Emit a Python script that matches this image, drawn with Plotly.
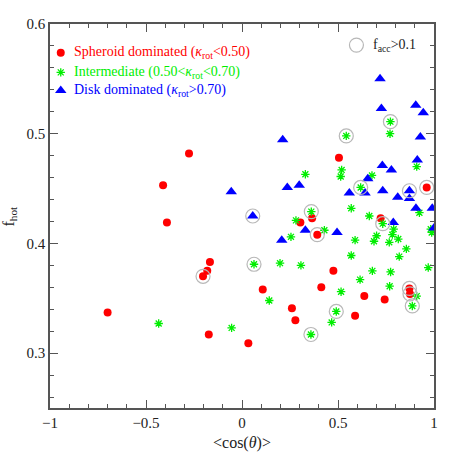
import plotly.graph_objects as go

# spheroid dominated (red)
sph_x = [-0.70, -0.276, -0.411, -0.391, -0.167, -0.181, -0.203, -0.173, 0.033, 0.108,
         0.260, 0.278, 0.304, 0.365, 0.392, 0.413, 0.476, 0.505, 0.589, 0.637,
         0.722, 0.743, 0.872, 0.875, 0.962]
sph_y = [0.337, 0.482, 0.453, 0.419, 0.383, 0.375, 0.370, 0.317, 0.309, 0.358,
         0.341, 0.330, 0.419, 0.423, 0.408, 0.360, 0.375, 0.478, 0.334, 0.352,
         0.423, 0.349, 0.359, 0.354, 0.451]
sph_acc = [0, 0, 0, 0, 0, 0, 1, 0, 0, 0,
           0, 0, 0, 0, 1, 0, 0, 0, 0, 0,
           0, 0, 1, 1, 1]

# intermediate (green)
int_x = [-0.434, -0.054, 0.0625, 0.142, 0.198, 0.255, 0.281, 0.307, 0.330, 0.361,
         0.359, 0.429, 0.467, 0.491, 0.516, 0.514, 0.519, 0.543, 0.569, 0.569,
         0.589, 0.615, 0.618, 0.663, 0.677, 0.679, 0.6875, 0.701, 0.733, 0.767,
         0.769, 0.771, 0.773, 0.774, 0.783, 0.790, 0.814, 0.819, 0.856, 0.887,
         0.910, 0.910, 0.924, 0.970, 0.983, 0.988]
int_y = [0.327, 0.323, 0.381, 0.348, 0.382, 0.406, 0.421, 0.380, 0.463, 0.429,
         0.317, 0.412, 0.328, 0.338, 0.356, 0.461, 0.467, 0.498, 0.432, 0.389,
         0.403, 0.367, 0.451, 0.425, 0.462, 0.375, 0.402, 0.407, 0.418, 0.401,
         0.361, 0.500, 0.511, 0.374, 0.408, 0.413, 0.404, 0.388, 0.395, 0.343,
         0.352, 0.470, 0.428, 0.378, 0.413, 0.410]
int_acc = [0, 0, 1, 0, 0, 0, 0, 0, 0, 1,
           1, 0, 0, 1, 0, 0, 0, 1, 0, 0,
           0, 0, 1, 0, 0, 0, 0, 0, 1, 0,
           0, 0, 1, 0, 0, 0, 0, 0, 0, 1,
           0, 0, 0, 0, 0, 0]

# disk dominated (blue)
disk_x = [-0.056, 0.056, 0.207, 0.212, 0.236, 0.298, 0.330, 0.495, 0.559, 0.641,
          0.655, 0.719, 0.726, 0.731, 0.733, 0.778, 0.788, 0.811, 0.872, 0.872,
          0.905, 0.906, 0.913, 0.929, 0.944, 0.991, 1.0]
disk_y = [0.447, 0.425, 0.403, 0.4945, 0.451, 0.453, 0.412, 0.410, 0.446, 0.446,
          0.459, 0.550, 0.523, 0.471, 0.448, 0.467, 0.419, 0.442, 0.448, 0.441,
          0.526, 0.432, 0.476, 0.497, 0.519, 0.432, 0.414]
disk_acc = [0, 1, 0, 0, 0, 0, 0, 0, 0, 0,
            0, 0, 0, 0, 0, 0, 0, 0, 1, 0,
            0, 0, 0, 0, 0, 0, 0]

xtick_vals = [-1, -0.5, 0, 0.5, 1]
xtick_text = ["\u22121", "\u22120.5", "0", "0.5", "1"]
ytick_vals = [0.3, 0.4, 0.5, 0.6]

RED = "#ff0000"
GREEN = "#00ee00"
BLUE = "#0000ff"
GREY = "#b8b8b8"
INK = "#222222"
FONT = "Liberation Serif"

fig = go.Figure()

fig.add_trace(go.Scatter(x=sph_x, y=sph_y, mode="markers",
                         marker=dict(symbol="circle", size=8, color=RED)))
fig.add_trace(go.Scatter(x=int_x, y=int_y, mode="markers",
                         marker=dict(symbol="asterisk-open", size=7, color=GREEN,
                                     line=dict(color=GREEN, width=1.3))))
fig.add_trace(go.Scatter(x=disk_x, y=disk_y, mode="markers",
                         marker=dict(symbol="triangle-up", size=10, color=BLUE)))

# f_acc > 0.1 rings
acc_x, acc_y = [], []
for xs, ys, fl in [(sph_x, sph_y, sph_acc), (int_x, int_y, int_acc), (disk_x, disk_y, disk_acc)]:
    for x, y, f in zip(xs, ys, fl):
        if f:
            acc_x.append(x)
            acc_y.append(y)
fig.add_trace(go.Scatter(x=acc_x, y=acc_y, mode="markers",
                         marker=dict(symbol="circle-open", size=14, color=GREY,
                                     line=dict(color=GREY, width=1.2))))

# legend: markers on a hidden 0..1 overlay axis + text annotations
leg = [
    ("circle", 8, RED, "Spheroid dominated (<i>\u03ba</i><sub>rot</sub>&lt;0.50)", 0.925),
    ("asterisk-open", 7, GREEN, "Intermediate (0.50&lt;<i>\u03ba</i><sub>rot</sub>&lt;0.70)", 0.874),
    ("triangle-up", 10, BLUE, "Disk dominated (<i>\u03ba</i><sub>rot</sub>&gt;0.70)", 0.827),
]
for sym, sz, col, txt, yp in leg:
    fig.add_trace(go.Scatter(x=[0.028], y=[yp], xaxis="x2", yaxis="y2", mode="markers",
                             marker=dict(symbol=sym, size=sz, color=col,
                                         line=dict(color=col, width=1.3 if "open" in sym else 0)),
                             cliponaxis=False))
    fig.add_annotation(x=0.058, y=yp, xref="paper", yref="paper", text=txt,
                       showarrow=False, xanchor="left", yanchor="middle",
                       font=dict(family=FONT, size=14, color=col))

fig.add_trace(go.Scatter(x=[0.798], y=[0.945], xaxis="x2", yaxis="y2", mode="markers",
                         marker=dict(symbol="circle-open", size=14, color=GREY,
                                     line=dict(color=GREY, width=1.2)),
                         cliponaxis=False))
fig.add_annotation(x=0.835, y=0.945, xref="paper", yref="paper",
                   text="f<sub>acc</sub>&gt;0.1", showarrow=False,
                   xanchor="left", yanchor="middle",
                   font=dict(family=FONT, size=14, color=INK))

# axis titles
fig.add_annotation(x=0.5, y=-0.062, xref="paper", yref="paper",
                   text="&lt;cos(<i>\u03b8</i>)&gt;", showarrow=False,
                   xanchor="center", yanchor="top",
                   font=dict(family=FONT, size=16, color=INK))
fig.add_annotation(x=-0.108, y=0.5, xref="paper", yref="paper",
                   text="f<sub>hot</sub>", showarrow=False, textangle=-90,
                   xanchor="center", yanchor="middle",
                   font=dict(family=FONT, size=16, color=INK))

axis_common = dict(showgrid=False, zeroline=False, showline=True, linecolor="#555555",
                   linewidth=1.5, mirror="allticks", ticks="inside", ticklen=8,
                   tickcolor="#555555", tickwidth=1, automargin=False,
                   tickfont=dict(family=FONT, size=15, color=INK))

fig.update_layout(
    width=458, height=458,
    margin=dict(l=50, r=24, t=24, b=50),
    paper_bgcolor="white", plot_bgcolor="white",
    showlegend=False,
    xaxis=dict(range=[-1, 1], tickvals=xtick_vals, ticktext=xtick_text,
               minor=dict(ticks="inside", dtick=0.1, ticklen=4, tickcolor="#555555"),
               **axis_common),
    yaxis=dict(range=[0.25, 0.6], tickvals=ytick_vals,
               minor=dict(ticks="inside", dtick=0.02, tick0=0, ticklen=4, tickcolor="#555555"),
               **axis_common),
    xaxis2=dict(range=[0, 1], overlaying="x", visible=False, automargin=False),
    yaxis2=dict(range=[0, 1], overlaying="y", visible=False, automargin=False),
)

fig.write_html("out.html", config={"displayModeBar": False},
               post_script="document.body.style.margin='0';")
